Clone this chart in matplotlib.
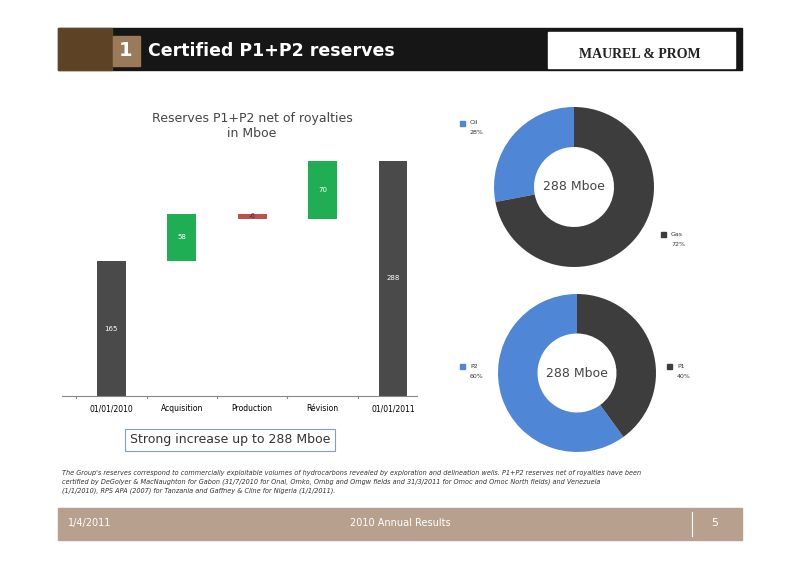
import matplotlib
matplotlib.use("Agg")
import matplotlib.pyplot as plt
from matplotlib.patches import Rectangle

categories = ["01/01/2010", "Acquisition", "Production", "Révision", "01/01/2011"]
changes = [165, 58, -6, 70, 288]
kinds = ["total", "delta", "delta", "delta", "total"]
labels = ["165", "58", "-6", "70", "288"]

pie1_labels = ["Oil", "Gas"]
pie1_values = [28, 72]
pie2_labels = ["P2", "P1"]
pie2_values = [60, 40]

W, H = 800, 565
fig = plt.figure(figsize=(8, 5.65), dpi=100)
fig.patch.set_facecolor("white")

def fx(x): return x / W
def fy(y): return 1 - y / H

# header
fig.patches.append(Rectangle((fx(58), fy(70)), fx(742) - fx(58), fy(28) - fy(70), transform=fig.transFigure, color="#161616", zorder=0))
fig.patches.append(Rectangle((fx(58), fy(70)), fx(112) - fx(58), fy(28) - fy(70), transform=fig.transFigure, color="#6b4a2a", zorder=0, alpha=0.85))
fig.patches.append(Rectangle((fx(113), fy(66)), fx(140) - fx(113), fy(36) - fy(66), transform=fig.transFigure, color="#9a7a58", zorder=1))
fig.text(fx(126), fy(51), "1", color="white", fontsize=14, fontweight="bold", ha="center", va="center")
fig.text(fx(148), fy(51), "Certified P1+P2 reserves", color="white", fontsize=12.5, fontweight="bold", ha="left", va="center")
fig.patches.append(Rectangle((fx(548), fy(68)), fx(735) - fx(548), fy(32) - fy(68), transform=fig.transFigure, color="white", zorder=1))
fig.text(fx(640), fy(54), "MAUREL & PROM", color="#222222", fontsize=10, fontweight="bold", ha="center", va="center", family="Liberation Serif")

# footer
fig.patches.append(Rectangle((fx(58), fy(540)), fx(742) - fx(58), fy(508) - fy(540), transform=fig.transFigure, color="#b8a08f", zorder=0))
fig.text(fx(68), fy(523), "1/4/2011", color="white", fontsize=7, va="center")
fig.text(fx(400), fy(523), "2010 Annual Results", color="white", fontsize=7, va="center", ha="center")
fig.text(fx(715), fy(523), "5", color="white", fontsize=8, va="center", ha="center")
fig.lines.append(plt.Line2D([fx(692), fx(692)], [fy(512), fy(536)], transform=fig.transFigure, color="white", lw=0.8))
note = ("The Group's reserves correspond to commercially exploitable volumes of hydrocarbons revealed by exploration and delineation wells. P1+P2 reserves net of royalties have been\n"
        "certified by DeGolyer & MacNaughton for Gabon (31/7/2010 for Onal, Omko, Ombg and Omgw fields and 31/3/2011 for Omoc and Omoc North fields) and Venezuela\n"
        "(1/1/2010), RPS APA (2007) for Tanzania and Gaffney & Cline for Nigeria (1/1/2011).")
fig.text(fx(62), fy(470), note, fontsize=4.7, style="italic", va="top", ha="left", color="#333333", linespacing=1.5)

# waterfall
ax = fig.add_axes([fx(62), fy(396), fx(417) - fx(62), fy(150) - fy(396)])
bottoms, heights, colors = [], [], []
run = 0
for c, k in zip(changes, kinds):
    if k == "total":
        bottoms.append(0); heights.append(c); colors.append("#4a4a4a"); run = c
    else:
        if c >= 0:
            bottoms.append(run); heights.append(c); colors.append("#1fae54")
        else:
            bottoms.append(run + c); heights.append(-c); colors.append("#c0504d")
        run += c
xs = range(len(categories))
ax.bar(xs, heights, bottom=bottoms, width=0.41, color=colors)
for x, b, h, l in zip(xs, bottoms, heights, labels):
    ax.text(x, b + h / 2, l, ha="center", va="center", color="white" if l != "-6" else "#333333", fontsize=5)
ax.set_xlim(-0.7, 4.34)
ax.set_ylim(0, 301)
ax.set_xticks(list(xs))
ax.set_xticklabels(categories, fontsize=5.5)
ax.set_yticks([])
for s in ["top", "right", "left"]:
    ax.spines[s].set_visible(False)
ax.spines["bottom"].set_color("#888888")
ax.tick_params(axis="x", length=0, pad=6)
for xb in [-0.5, 0.5, 1.5, 2.5, 3.5]:
    ax.plot([xb, xb], [0, -3], color="#888888", lw=0.8, clip_on=False)
fig.text(fx(252), fy(126), "Reserves P1+P2 net of royalties\nin Mboe", ha="center", va="center", fontsize=9, color="#444444")
fig.text(fx(230), fy(440), "Strong increase up to 288 Mboe", ha="center", va="center", fontsize=9, color="#333333",
         bbox=dict(boxstyle="square,pad=0.35", fc="white", ec="#7f9fc8", lw=0.8))

# donuts
def donut(cx, cy, r, values, cols):
    a = fig.add_axes([fx(cx - r), fy(cy + r), 2 * r / W, 2 * r / H])
    a.pie(values, colors=cols, startangle=90, counterclock=True, radius=1.0,
          wedgeprops=dict(width=0.5, edgecolor="none"))
    a.set_xlim(-1, 1); a.set_ylim(-1, 1)
    a.set_aspect("equal")
    a.text(0, 0, "288 Mboe", ha="center", va="center", fontsize=9, color="#444444")
    return a

donut(574, 187, 80, pie1_values, ["#4f86d6", "#3d3d3d"])
donut(577, 373, 79, pie2_values, ["#4f86d6", "#3d3d3d"])

def legend(x, y, col, name, pct):
    fig.patches.append(Rectangle((fx(x), fy(y + 3)), 5 / W, 5 / H, transform=fig.transFigure, color=col))
    fig.text(fx(x + 10), fy(y), name, fontsize=4.5, va="center", color="#333333")
    fig.text(fx(x + 10), fy(y + 10), pct, fontsize=4.5, va="center", color="#333333")

legend(460, 123, "#4f86d6", pie1_labels[0], f"{pie1_values[0]}%")
legend(661, 234, "#3d3d3d", pie1_labels[1], f"{pie1_values[1]}%")
legend(460, 366, "#4f86d6", pie2_labels[0], f"{pie2_values[0]}%")
legend(667, 366, "#3d3d3d", pie2_labels[1], f"{pie2_values[1]}%")

fig.savefig("out.png", dpi=100)
